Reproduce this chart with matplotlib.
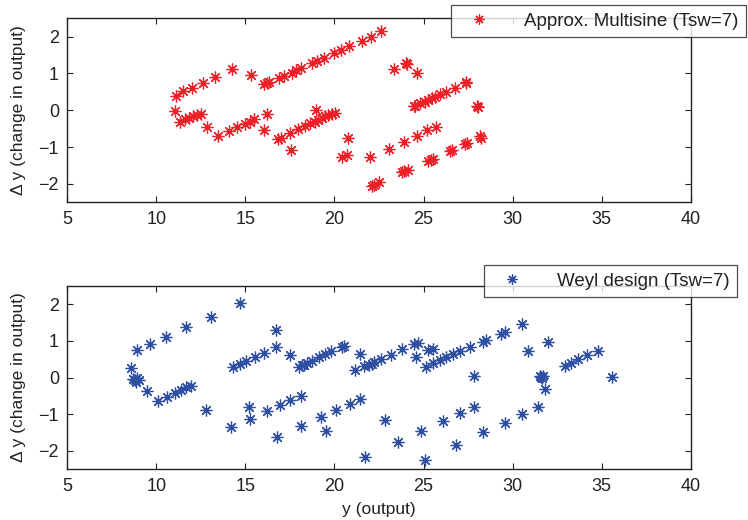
import numpy as np
import matplotlib
matplotlib.use("Agg")
import matplotlib.pyplot as plt

plt.rcParams['font.family'] = ['Liberation Sans', 'DejaVu Sans']

# Approx. Multisine (Tsw=7): y (output), delta y
ms_x = [11.08, 11.47, 11.98, 12.60, 13.29, 14.23, 15.32,
        16.07, 16.20, 16.31, 16.88, 17.16, 17.63, 17.85, 18.13, 18.75, 19.03, 19.41,
        19.97, 20.38, 20.83, 21.53, 22.04, 22.60,
        23.33, 23.99, 24.05, 24.64,
        24.46, 24.52, 24.80, 25.08, 25.27, 25.46, 25.64, 25.92, 26.24, 26.77, 27.37, 27.40,
        28.02, 28.08,
        22.02, 23.05, 23.89, 24.62, 25.18, 25.69,
        22.09, 22.20, 22.52, 23.78, 23.90, 24.14, 25.24, 25.40, 25.53, 26.46, 26.59,
        27.35, 27.44, 28.15, 28.21,
        11.05, 11.33, 11.61, 11.84, 12.07, 12.30, 12.49, 12.83, 13.48, 14.08, 14.55,
        14.98, 15.26, 15.50, 16.20, 16.06,
        16.85, 16.98, 17.50, 17.97, 18.35, 18.63, 18.91, 19.10, 19.28, 19.47, 19.65,
        19.84, 20.03, 18.95,
        17.56, 20.78, 20.41, 20.69]
ms_dy = [0.40, 0.51, 0.61, 0.75, 0.90, 1.11, 0.95,
         0.71, 0.74, 0.77, 0.87, 0.92, 1.02, 1.10, 1.16, 1.29, 1.35, 1.42,
         1.55, 1.64, 1.75, 1.89, 2.00, 2.14,
         1.12, 1.28, 1.25, 1.02,
         0.12, 0.12, 0.19, 0.23, 0.28, 0.33, 0.37, 0.43, 0.49, 0.60, 0.73, 0.76,
         0.12, 0.08,
         -1.26, -1.05, -0.85, -0.70, -0.55, -0.45,
         -2.05, -2.02, -1.96, -1.69, -1.66, -1.62, -1.38, -1.36, -1.32, -1.12, -1.08,
         -0.91, -0.88, -0.71, -0.76,
         -0.01, -0.31, -0.25, -0.20, -0.17, -0.14, -0.10, -0.45, -0.70, -0.56, -0.46,
         -0.37, -0.31, -0.24, -0.11, -0.54,
         -0.79, -0.76, -0.63, -0.52, -0.43, -0.35, -0.31, -0.26, -0.22, -0.17, -0.14,
         -0.10, -0.07, 0.01,
         -1.08, -0.76, -1.26, -1.21]

# Weyl design (Tsw=7)
wd_x = [8.56, 8.90, 8.70, 8.80, 8.90, 9.00, 8.85, 9.47, 9.62, 10.07, 10.55, 10.59,
        11.06, 11.38, 11.68, 11.96, 11.66, 12.79, 13.09, 14.19, 14.72,
        14.31, 14.68, 15.06, 15.51, 16.07, 16.74, 16.74,
        15.19, 15.28, 16.22, 16.93, 17.53, 18.10, 16.78, 17.50, 18.13, 19.22, 19.54,
        20.08, 20.87, 21.43, 21.70, 22.82, 23.54,
        21.13, 21.42,
        18.00, 18.19, 18.30, 18.47, 18.75, 19.13, 19.45, 19.78, 20.44, 20.53,
        21.68, 21.96, 22.10, 22.24, 22.62, 23.18, 23.80, 24.49, 24.68,
        24.59, 25.24, 25.53,
        25.15, 25.53, 25.90, 26.28, 26.65, 27.03, 27.59, 28.34, 28.53,
        29.37, 29.56, 30.55, 30.87, 31.99, 31.55, 31.62, 31.70, 31.65, 31.81,
        32.94, 33.26, 33.69, 34.16, 34.78, 35.56, 27.81,
        24.87, 25.06, 26.09, 27.06, 27.81, 26.84, 28.34, 29.60, 30.55, 31.44]
wd_dy = [0.27, 0.75, -0.05, -0.08, -0.02, -0.06, -0.12, -0.38, 0.91, -0.65, 1.11, -0.52,
         -0.43, -0.33, -0.27, -0.23, 1.37, -0.88, 1.66, -1.36, 2.04,
         0.30, 0.36, 0.45, 0.55, 0.68, 0.82, 1.29,
         -0.79, -1.12, -0.92, -0.74, -0.61, -0.50, -1.63, 0.60, -1.31, -1.08, -1.45,
         -0.88, -0.72, -0.59, -2.16, -1.15, -1.76,
         0.21, 0.63,
         0.28, 0.33, 0.35, 0.39, 0.46, 0.55, 0.63, 0.71, 0.84, 0.87,
         0.32, 0.35, 0.38, 0.43, 0.51, 0.62, 0.77, 0.91, 0.93,
         0.55, 0.75, 0.77,
         0.28, 0.39, 0.48, 0.57, 0.63, 0.71, 0.82, 0.98, 1.02,
         1.19, 1.25, 1.46, 0.73, 0.98, 0.05, 0.02, 0.04, -0.01, -0.32,
         0.32, 0.39, 0.50, 0.60, 0.73, 0.01, 0.05,
         -1.45, -2.24, -1.18, -0.97, -0.79, -1.83, -1.49, -1.24, -0.99, -0.81]

x_ticks = [5, 10, 15, 20, 25, 30, 35, 40]
y_ticks = [-2, -1, 0, 1, 2]

fig = plt.figure(figsize=(7.48, 5.2), dpi=100)
ax1 = fig.add_axes([0.09, 0.611, 0.8334, 0.354])
ax2 = fig.add_axes([0.09, 0.0975, 0.8334, 0.353])

star = (8, 2, 0)
ax1.plot(ms_x, ms_dy, linestyle='none', marker=star, markersize=8.5, markeredgewidth=0.9,
         color='#ec2027', label='Approx. Multisine (Tsw=7)')
ax2.plot(wd_x, wd_dy, linestyle='none', marker=star, markersize=8.5, markeredgewidth=0.9,
         color='#2f4fa2', label='Weyl design (Tsw=7)')

for ax in (ax1, ax2):
    ax.set_xlim(5, 40)
    ax.set_ylim(-2.5, 2.5)
    ax.set_xticks(x_ticks)
    ax.set_yticks(y_ticks)
    ax.set_yticklabels(['\u22122', '\u22121', '0', '1', '2'])
    ax.tick_params(direction='in', length=4, width=0.8, top=True, right=True,
                   labelsize=13, colors='#222222', pad=6)
    for s in ax.spines.values():
        s.set_linewidth(1.0)
        s.set_color('#222222')
    ax.set_ylabel('\u0394 y (change in output)', fontsize=12.5, color='#222222', labelpad=9)

ax2.set_xlabel('y (output)', fontsize=12.5, color='#222222', labelpad=5)

for ax, anchor in ((ax1, (0.997, 0.990)), (ax2, (0.985, 0.490))):
    leg = ax.legend(loc='upper right', bbox_to_anchor=anchor, bbox_transform=fig.transFigure,
                    fontsize=13.5, frameon=True, fancybox=False, borderpad=0.4,
                    handlelength=2.2, handletextpad=1.3, borderaxespad=0, markerscale=0.85)
    leg.get_frame().set_edgecolor('#222222')
    leg.get_frame().set_linewidth(0.9)
    for t in leg.get_texts():
        t.set_color('#222222')

fig.savefig('out.png', dpi=100)
